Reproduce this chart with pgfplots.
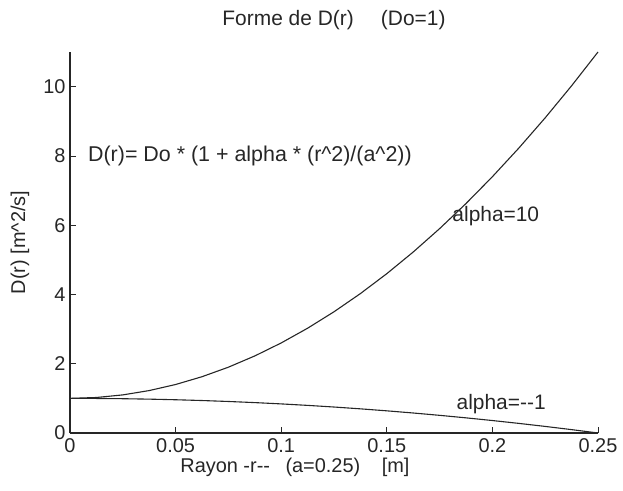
\documentclass[border=0pt]{standalone}
\usepackage{pgfplots}
\pgfplotsset{compat=1.18}
\usepackage{fontspec}
\setmainfont{Liberation Sans}
\begin{document}
\begin{tikzpicture}
\begin{axis}[
  scale only axis,
  width=528bp, height=381bp,
  xmin=0, xmax=0.25, ymin=0, ymax=11,
  axis lines*=left,
  axis line style={line width=1.1bp, color=black!85},
  xtick={0,0.05,0.1,0.15,0.2,0.25},
  xticklabels={0,0.05,0.1,0.15,0.2,0.25},
  ytick={0,2,4,6,8,10},
  tick align=inside,
  major tick length=6bp,
  tick style={line width=0.8bp, color=black!85},
  /pgf/number format/assume math mode=true,
  tick label style={font=\fontsize{20}{23}\selectfont, text=black!85},
  xticklabel style={yshift=-2bp},
  yticklabel style={xshift=-1bp},
  label style={font=\fontsize{20}{23}\selectfont, text=black!85},
  title style={font=\fontsize{21}{24}\selectfont, text=black!85, at={(axis description cs:0.5,1.068)}, anchor=center},
  title={Forme de D(r)\hspace{1.3em}(Do=1)},
  xlabel={Rayon -r-{}-\hspace{0.5em} (a=0.25)\hspace{0.8em} [m]},
  ylabel={D(r) [m\^{}2/s]},
  xlabel style={at={(axis description cs:0.426,-0.09)}, anchor=center},
  ylabel style={at={(axis description cs:-0.0947,0.5)}, anchor=center},
  clip=false,
]
\addplot[black!85, line width=1.1bp] coordinates {
(0,1) (0.0125,1.025) (0.025,1.1) (0.0375,1.225) (0.05,1.4) (0.0625,1.625)
(0.075,1.9) (0.0875,2.225) (0.1,2.6) (0.1125,3.025) (0.125,3.5) (0.1375,4.025)
(0.15,4.6) (0.1625,5.225) (0.175,5.9) (0.1875,6.625) (0.2,7.4) (0.2125,8.225)
(0.225,9.1) (0.2375,10.025) (0.25,11)};
\addplot[black!85, line width=1.1bp] coordinates {
(0,1) (0.0125,0.9975) (0.025,0.99) (0.0375,0.9775) (0.05,0.96) (0.0625,0.9375)
(0.075,0.91) (0.0875,0.8775) (0.1,0.84) (0.1125,0.7975) (0.125,0.75) (0.1375,0.6975)
(0.15,0.64) (0.1625,0.5775) (0.175,0.51) (0.1875,0.4375) (0.2,0.36) (0.2125,0.2775)
(0.225,0.19) (0.2375,0.0975) (0.25,0)};
\node[anchor=west, inner sep=0pt, font=\fontsize{21.5}{24}\selectfont, text=black!85] at (axis cs:0.0085,8) {D(r)= Do * (1 + alpha * (r\^{}2)/(a\^{}2))};
\node[anchor=west, inner sep=0pt, font=\fontsize{21}{24}\selectfont, text=black!85] at (axis cs:0.181,6.26) {alpha=10};
\node[anchor=west, inner sep=0pt, font=\fontsize{21}{24}\selectfont, text=black!85] at (axis cs:0.183,0.84) {alpha=-{}-1};
\end{axis}
\pgfresetboundingbox
\path[use as bounding box] (current axis.south west) ++(-70bp,-58bp) rectangle ([xshift=25bp,yshift=52bp]current axis.north east);
\end{tikzpicture}
\end{document}
